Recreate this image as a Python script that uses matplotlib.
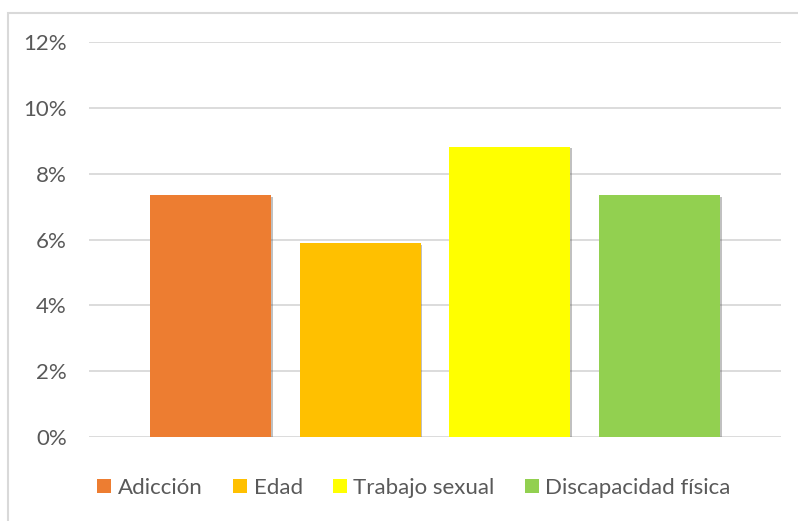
import matplotlib
matplotlib.use("Agg")
import matplotlib.pyplot as plt
import matplotlib.patheffects as pe
from matplotlib.patches import Rectangle, Patch
from matplotlib.ticker import PercentFormatter

categories = ["Adicción", "Edad", "Trabajo sexual", "Discapacidad física"]
values = [0.0735, 0.0588, 0.0882, 0.0735]
colors = ["#ED7D31", "#FFC000", "#FFFF00", "#92D050"]
yticks = [0, 0.02, 0.04, 0.06, 0.08, 0.10, 0.12]

TXT = "#595959"
GRID = "#D9D9D9"
plt.rcParams["font.family"] = ["Lato", "DejaVu Sans"]

W, H = 798, 521
fig = plt.figure(figsize=(W / 100, H / 100), dpi=100)
ax = fig.add_axes([89 / W, 1 - 437 / H, (781 - 89) / W, (437 - 42) / H])

x = list(range(len(categories)))
bars = ax.bar(x, values, width=0.81, color=colors, zorder=3)
for b in bars:
    b.set_path_effects([pe.SimplePatchShadow(offset=(1.2, -1.2), shadow_rgbFace="0.3", alpha=0.35),
                        pe.Normal()])

ax.set_xlim(1.5 - 2.314, 1.5 + 2.314)
ax.set_ylim(0, 0.12)
ax.set_yticks(yticks)
ax.yaxis.set_major_formatter(PercentFormatter(1.0, decimals=0))
ax.set_xticks([])
ax.tick_params(axis="y", length=0, pad=16, labelsize=16, labelcolor=TXT)
ax.grid(axis="y", color=GRID, lw=1.3, zorder=0)
ax.set_axisbelow(True)
for s in ax.spines.values():
    s.set_visible(False)

handles = [Patch(facecolor=c, edgecolor="none") for c in colors]
fig.legend(handles, categories, loc="center", bbox_to_anchor=(414 / W, 1 - 488 / H),
           ncol=4, frameon=False, fontsize=16, labelcolor=TXT,
           handlelength=0.63, handleheight=0.63, handletextpad=0.3, columnspacing=1.35)

fig.patches.append(Rectangle((8 / W, -0.1), 1.2, 1 - 13 / H + 0.1, transform=fig.transFigure,
                             fill=False, edgecolor=GRID, lw=1.5))

fig.savefig("out.png", dpi=100)
